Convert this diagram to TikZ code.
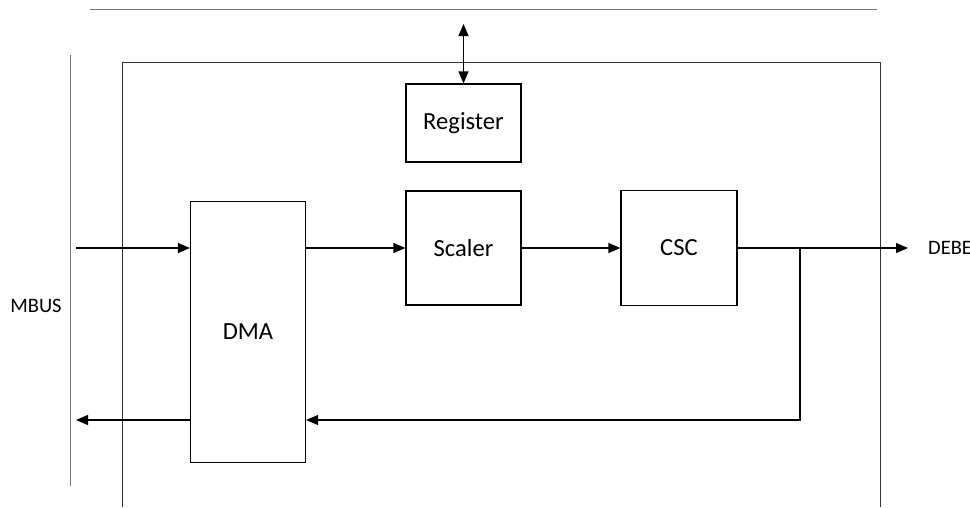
\documentclass[tikz,border=0pt]{standalone}
\usepackage{fontspec}
\setmainfont{Carlito}
\usetikzlibrary{positioning, arrows.meta}

\begin{document}
\begin{tikzpicture}[
    x=1pt, y=1pt,
    every node/.style={align=center, inner sep=0pt},
    block/.style={rectangle, draw=black, line width=1.2pt, font=\fontsize{24.6}{28}\selectfont},
    busline/.style={draw=black!55, line width=1pt},
    frame/.style={draw=black!80, line width=1pt},
    arrow/.style={-{Triangle[length=12pt, width=10pt]}, line width=1.2pt},
    darrow/.style={{Triangle[length=12pt, width=10pt]}-{Triangle[length=12pt, width=10pt]}, line width=1.2pt},
    label/.style={font=\fontsize{20.5}{24}\selectfont}
]
\useasboundingbox (0,0) rectangle (970,-507);

% --- Buses and module frame
\draw[busline] (90,-9) -- (877,-9);
\draw[busline] (70,-55) -- (70,-486);
\draw[frame] (122,-507) -- (122,-62) -- (880,-62) -- (880,-507);

% --- Blocks
\node[block, minimum width=115, minimum height=78] (reg) at (463.5,-123) {Register};
\node[block, minimum width=115, minimum height=114] (scaler) at (463.5,-248) {Scaler};
\node[block, minimum width=116, minimum height=115] (csc) at (679,-248) {CSC};
\node[block, minimum width=115, minimum height=261] (dma) at (248,-332) {DMA};

% --- Labels
\node[label] (mbus) at (36,-306) {MBUS};
\node[label, anchor=west] (debe) at (928,-248) {DEBE};

% --- Helper points
\coordinate (cfg) at (463.5,-24);
\coordinate (mbusin) at (76,-248);
\coordinate (mbusout) at (76,-420);
\coordinate (debein) at (908,-248);
\coordinate (tap) at (800,-248);
\coordinate (fb) at (800,-420);

% --- Connectors
\draw[darrow] (cfg) -- (reg.north);
\draw[arrow] (mbusin) -- (mbusin -| dma.west);
\draw[arrow] (scaler.west -| dma.east) -- (scaler.west);
\draw[arrow] (scaler) -- (csc);
\draw[arrow] (csc.east) -- (debein);
\draw[arrow] (tap) |- (fb -| dma.east);
\draw[arrow] (fb -| dma.west) -- (mbusout);

\end{tikzpicture}
\end{document}
